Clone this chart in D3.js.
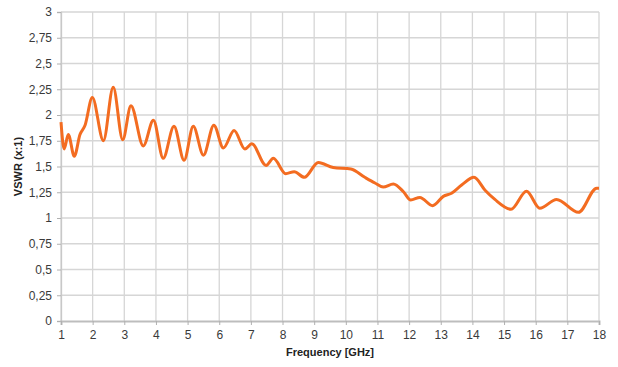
<!DOCTYPE html>
<html><head><meta charset="utf-8">
<script src="https://cdn.jsdelivr.net/npm/d3@7"></script>
<style>body{margin:0;background:#fff;} svg{display:block;}</style>
</head><body>
<svg id="c" width="618" height="367"></svg>
<script>
const freq = [1.0,1.10,1.23,1.42,1.60,1.76,1.99,2.34,2.65,2.95,3.21,3.60,3.92,4.23,4.57,4.89,5.18,5.50,5.83,6.13,6.47,6.81,7.03,7.48,7.71,8.10,8.37,8.69,9.13,9.60,10.16,10.60,10.92,11.18,11.50,11.82,12.05,12.34,12.74,13.08,13.34,13.66,14.05,14.40,14.71,15.22,15.71,16.13,16.66,17.35,17.93,18.0];
const vswr = [1.93,1.67,1.81,1.60,1.81,1.90,2.17,1.75,2.27,1.76,2.09,1.70,1.95,1.58,1.89,1.56,1.89,1.61,1.90,1.68,1.85,1.67,1.72,1.51,1.58,1.43,1.45,1.395,1.54,1.49,1.475,1.395,1.34,1.30,1.33,1.255,1.175,1.20,1.12,1.21,1.24,1.32,1.395,1.27,1.18,1.085,1.26,1.095,1.18,1.055,1.29,1.29];
const xTicks = [1,2,3,4,5,6,7,8,9,10,11,12,13,14,15,16,17,18];
const yTicks = [0,0.25,0.5,0.75,1,1.25,1.5,1.75,2,2.25,2.5,2.75,3];
const xLabel = "Frequency [GHz]";
const yLabel = "VSWR (x:1)";

const svg = d3.select("#c");
const L=61, R=599, T=12, B=321;
const x = d3.scaleLinear().domain([1,18]).range([L,R]);
const y = d3.scaleLinear().domain([0,3]).range([B,T]);
const fmt = v => String(v).replace(".", ",");
const font = "'Liberation Sans', Arial, Helvetica, sans-serif";

// grid
svg.append("g").selectAll("line").data(yTicks.filter(v=>v>0)).join("line")
  .attr("x1",L).attr("x2",R).attr("y1",d=>y(d)).attr("y2",d=>y(d))
  .attr("stroke","#d6d6d6").attr("stroke-width",1.3);
svg.append("g").selectAll("line").data(xTicks).join("line")
  .attr("x1",d=>x(d)).attr("x2",d=>x(d)).attr("y1",T).attr("y2",B)
  .attr("stroke","#d6d6d6").attr("stroke-width",1.3);

// y axis
const ya = svg.append("g").attr("transform",`translate(${L},0)`)
  .call(d3.axisLeft(y).tickValues(yTicks).tickFormat(fmt).tickSize(4).tickPadding(5));
ya.select(".domain").attr("stroke","#c8c8c8").attr("stroke-width",1.3);
ya.selectAll(".tick line").attr("stroke","#b0b0b0");
ya.selectAll("text").attr("font-family",font).attr("font-size",12).attr("fill","#3a3a3a");

// x axis
const xa = svg.append("g").attr("transform",`translate(0,${B})`)
  .call(d3.axisBottom(x).tickValues(xTicks).tickSize(4).tickPadding(5));
xa.select(".domain").attr("stroke","#bdbdbd").attr("stroke-width",2);
xa.selectAll(".tick line").attr("stroke","#b0b0b0");
xa.selectAll("text").attr("font-family",font).attr("font-size",12).attr("fill","#3a3a3a");

// labels
svg.append("text").attr("x",(L+R)/2).attr("y",356).attr("text-anchor","middle")
  .attr("font-family",font).attr("font-size",11).attr("font-weight","bold").attr("fill","#222").text(xLabel);
svg.append("text").attr("transform",`translate(22,${(T+B)/2}) rotate(-90)`).attr("text-anchor","middle")
  .attr("font-family",font).attr("font-size",11).attr("font-weight","bold").attr("fill","#222").text(yLabel);

// line
const data = freq.map((f,i)=>[f,vswr[i]]);
svg.append("path").datum(data)
  .attr("d", d3.line().x(d=>x(d[0])).y(d=>y(d[1])).curve(d3.curveMonotoneX))
  .attr("fill","none").attr("stroke","#f36c21").attr("stroke-width",3).attr("stroke-linejoin","round");
</script>
</body></html>
